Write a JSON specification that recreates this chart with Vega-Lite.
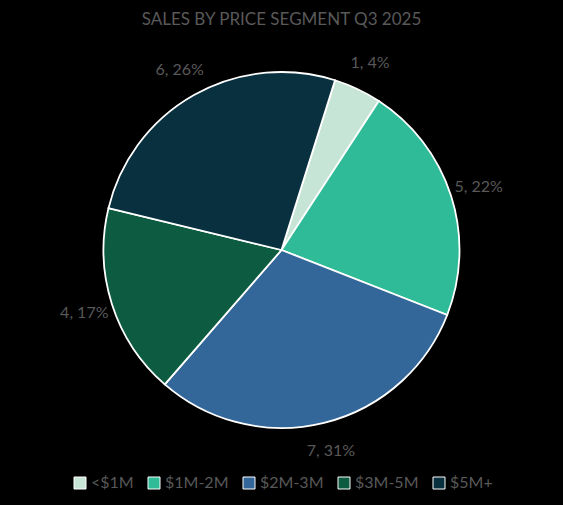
{
  "$schema": "https://vega.github.io/schema/vega-lite/v6.json",
  "width": 563,
  "height": 420,
  "autosize": {"type": "none"},
  "padding": {"top": 40, "left": 0, "right": 0, "bottom": 45},
  "background": "black",
  "title": {
    "text": "SALES BY PRICE SEGMENT Q3 2025",
    "color": "#595959",
    "font": "Lato",
    "fontSize": 17,
    "fontWeight": "normal",
    "anchor": "middle",
    "offset": 11
  },
  "config": {"view": {"stroke": null}},
  "data": {
    "values": [
      {"segment": "<$1M", "sales": 1, "order": 1, "label": "1, 4%"},
      {"segment": "$1M-2M", "sales": 5, "order": 2, "label": "5, 22%"},
      {"segment": "$2M-3M", "sales": 7, "order": 3, "label": "7, 31%"},
      {"segment": "$3M-5M", "sales": 4, "order": 4, "label": "4, 17%"},
      {"segment": "$5M+", "sales": 6, "order": 5, "label": "6, 26%"}
    ]
  },
  "encoding": {
    "theta": {
      "field": "sales",
      "type": "quantitative",
      "stack": true,
      "scale": {"range": [0.3054, 6.5886]}
    },
    "order": {"field": "order", "type": "quantitative"}
  },
  "layer": [
    {
      "mark": {"type": "arc", "outerRadius": 178, "stroke": "white", "strokeWidth": 1.8},
      "encoding": {
        "color": {
          "field": "segment",
          "type": "nominal",
          "scale": {
            "domain": ["<$1M", "$1M-2M", "$2M-3M", "$3M-5M", "$5M+"],
            "range": ["#c6e5d6", "#2fbb97", "#336699", "#0d5c42", "#08303f"]
          },
          "legend": {
            "orient": "none",
            "legendX": 72,
            "legendY": 435,
            "direction": "horizontal",
            "columns": 5,
            "title": null,
            "symbolType": "square",
            "symbolSize": 144,
            "symbolStrokeColor": "white",
            "symbolStrokeWidth": 1,
            "symbolOpacity": 1,
            "labelColor": "#595959",
            "labelFont": "Lato",
            "labelFontSize": 16,
            "labelOffset": 3,
            "columnPadding": 12
          }
        }
      }
    },
    {
      "mark": {"type": "text", "radius": 207, "font": "Lato", "fontSize": 16, "fill": "#595959", "align": "center", "baseline": "middle"},
      "encoding": {"text": {"field": "label", "type": "nominal"}}
    }
  ]
}
